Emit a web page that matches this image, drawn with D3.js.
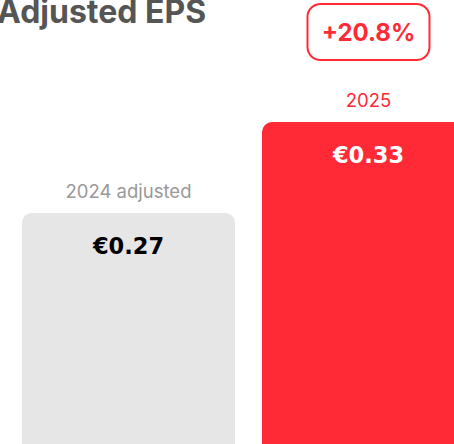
<!DOCTYPE html>
<html lang="en">
<head>
<meta charset="UTF-8">
<title>Adjusted EPS</title>
<script src="https://cdn.jsdelivr.net/npm/d3@7"></script>
<style>
  body { margin: 0; background: #fff; overflow: hidden; }
  svg { display: block; }
</style>
</head>
<body>
<div id="graphDiv"></div>
<script>
// data
var categories = ["2024 adjusted", "2025"]
var values = [0.27, 0.33]
var valueLabels = ["€0.27", "€0.33"]
var changeLabel = "+20.8%"

var width = 454
var height = 444
var red = "#ff2a36"

var svg = d3.select("#graphDiv").append("svg")
    .attr("width", width).attr("height", height)

// bars run past the bottom edge (cropped picture)
var x = d3.scaleBand().domain(categories).range([22, 475]).paddingInner(0.1125)
var y = d3.scaleLinear().domain([0, 0.33]).range([622, 122])

var fills = [ "#e6e6e6", red ]
var labelColors = [ "#999999", red ]
var valueColors = [ "#000000", "#ffffff" ]

var g = svg.selectAll("g.bar").data(categories).enter().append("g").attr("class", "bar")

g.append("rect")
    .attr("x", d => x(d))
    .attr("y", (d, i) => y(values[i]))
    .attr("width", x.bandwidth())
    .attr("height", (d, i) => y(0) - y(values[i]) + 20)
    .attr("rx", 10)
    .attr("fill", (d, i) => fills[i])

g.append("text")
    .text(d => d)
    .attr("x", d => x(d) + x.bandwidth() / 2)
    .attr("y", (d, i) => y(values[i]) - 15)
    .attr("text-anchor", "middle")
    .attr("font-family", "Inter, sans-serif")
    .attr("font-size", 18.5)
    .attr("fill", (d, i) => labelColors[i])

g.append("text")
    .text((d, i) => valueLabels[i])
    .attr("x", d => x(d) + x.bandwidth() / 2)
    .attr("y", (d, i) => y(values[i]) + 41)
    .attr("text-anchor", "middle")
    .attr("font-family", "'DejaVu Sans', sans-serif")
    .attr("font-weight", "bold")
    .attr("font-size", 22.5)
    .attr("fill", (d, i) => valueColors[i])

// change badge above the 2025 bar
var cx = x("2025") + x.bandwidth() / 2
svg.append("rect")
    .attr("x", cx - 61).attr("y", 4)
    .attr("width", 122).attr("height", 56)
    .attr("rx", 13)
    .attr("fill", "#fff")
    .attr("stroke", red).attr("stroke-width", 2)
svg.append("text")
    .text(changeLabel)
    .attr("x", cx).attr("y", 41)
    .attr("text-anchor", "middle")
    .attr("font-family", "Inter, sans-serif")
    .attr("font-weight", "bold")
    .attr("font-size", 24)
    .attr("fill", red)

// title, cut off at top-left
svg.append("text")
    .text("Adjusted EPS")
    .attr("x", -3).attr("y", 23)
    .attr("font-family", "Inter, sans-serif")
    .attr("font-weight", "bold")
    .attr("font-size", 32)
    .attr("fill", "#555555")
</script>
</body>
</html>
